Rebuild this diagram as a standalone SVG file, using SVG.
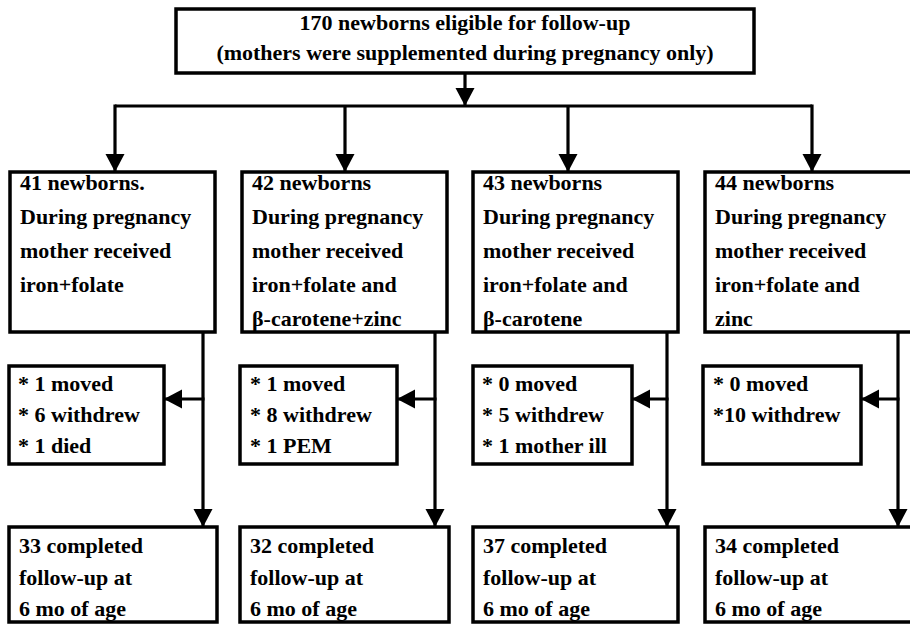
<svg xmlns="http://www.w3.org/2000/svg" width="910" height="626" viewBox="0 0 910 626">
  <defs>
    <style>
      .box { fill: #fff; stroke: #000; stroke-width: 3.5; }
      .txt { font-family: "Liberation Serif", "Times New Roman", serif; font-weight: bold; font-size: 22px; fill: #000; }
      .ctr { text-anchor: middle; }
      .wire { fill: none; stroke: #000; stroke-width: 3.2; }
    </style>
    <marker id="arrow" markerUnits="userSpaceOnUse" markerWidth="20" markerHeight="22" refX="18" refY="11" orient="auto">
      <path d="M0,1.5 L18,11 L0,20.5 Z" fill="#000"/>
    </marker>
  </defs>
  <rect width="910" height="626" fill="#fff"/>

  <!-- connectors -->
  <g id="connectors">
    <line class="wire" x1="465" y1="73" x2="465" y2="106" marker-end="url(#arrow)"/>
    <path class="wire" d="M115,106 H812"/>
    <line class="wire" x1="115" y1="104.5" x2="115" y2="172" marker-end="url(#arrow)"/>
    <line class="wire" x1="345" y1="106" x2="345" y2="172" marker-end="url(#arrow)"/>
    <line class="wire" x1="568" y1="106" x2="568" y2="172" marker-end="url(#arrow)"/>
    <line class="wire" x1="812" y1="104.5" x2="812" y2="172" marker-end="url(#arrow)"/>

    <line class="wire" x1="203" y1="332" x2="203" y2="527" marker-end="url(#arrow)"/>
    <line class="wire" x1="435" y1="332" x2="435" y2="527" marker-end="url(#arrow)"/>
    <line class="wire" x1="667" y1="332" x2="667" y2="527" marker-end="url(#arrow)"/>
    <line class="wire" x1="898" y1="332" x2="898" y2="527" marker-end="url(#arrow)"/>

    <line class="wire" x1="204.5" y1="399" x2="164" y2="399" marker-end="url(#arrow)"/>
    <line class="wire" x1="436.5" y1="399" x2="397" y2="399" marker-end="url(#arrow)"/>
    <line class="wire" x1="668.5" y1="399" x2="632" y2="399" marker-end="url(#arrow)"/>
    <line class="wire" x1="899.5" y1="399" x2="861" y2="399" marker-end="url(#arrow)"/>
  </g>

  <!-- eligible cohort -->
  <g id="eligible">
    <rect class="box" x="176" y="9" width="578" height="64"/>
    <text class="txt ctr" x="465" y="30">170 newborns eligible for follow-up</text>
    <text class="txt ctr" x="465" y="60">(mothers were supplemented during pregnancy only)</text>
  </g>

  <!-- supplementation groups -->
  <g id="group1">
    <rect class="box" x="10" y="172" width="205" height="160"/>
    <text class="txt" x="20" y="190">41 newborns.</text>
    <text class="txt" x="20" y="224">During pregnancy</text>
    <text class="txt" x="20" y="258">mother received</text>
    <text class="txt" x="20" y="292">iron+folate</text>
  </g>
  <g id="group2">
    <rect class="box" x="242" y="172" width="205" height="160"/>
    <text class="txt" x="252" y="190">42 newborns</text>
    <text class="txt" x="252" y="224">During pregnancy</text>
    <text class="txt" x="252" y="258">mother received</text>
    <text class="txt" x="252" y="292">iron+folate and</text>
    <text class="txt" x="252" y="326">β-carotene+zinc</text>
  </g>
  <g id="group3">
    <rect class="box" x="473" y="172" width="205" height="160"/>
    <text class="txt" x="483" y="190">43 newborns</text>
    <text class="txt" x="483" y="224">During pregnancy</text>
    <text class="txt" x="483" y="258">mother received</text>
    <text class="txt" x="483" y="292">iron+folate and</text>
    <text class="txt" x="483" y="326">β-carotene</text>
  </g>
  <g id="group4">
    <rect class="box" x="705" y="172" width="210" height="160"/>
    <text class="txt" x="715" y="190">44 newborns</text>
    <text class="txt" x="715" y="224">During pregnancy</text>
    <text class="txt" x="715" y="258">mother received</text>
    <text class="txt" x="715" y="292">iron+folate and</text>
    <text class="txt" x="715" y="326">zinc</text>
  </g>

  <!-- losses to follow-up -->
  <g id="loss1">
    <rect class="box" x="9" y="366" width="155" height="98"/>
    <text class="txt" x="18" y="391">* 1 moved</text>
    <text class="txt" x="18" y="422">* 6 withdrew</text>
    <text class="txt" x="18" y="453">* 1 died</text>
  </g>
  <g id="loss2">
    <rect class="box" x="240" y="366" width="157" height="98"/>
    <text class="txt" x="250" y="391">* 1 moved</text>
    <text class="txt" x="250" y="422">* 8 withdrew</text>
    <text class="txt" x="250" y="453">* 1 PEM</text>
  </g>
  <g id="loss3">
    <rect class="box" x="473" y="366" width="159" height="98"/>
    <text class="txt" x="482" y="391">* 0 moved</text>
    <text class="txt" x="482" y="422">* 5 withdrew</text>
    <text class="txt" x="482" y="453">* 1 mother ill</text>
  </g>
  <g id="loss4">
    <rect class="box" x="703" y="366" width="158" height="98"/>
    <text class="txt" x="713" y="391">* 0 moved</text>
    <text class="txt" x="713" y="422">*10 withdrew</text>
  </g>

  <!-- completed follow-up -->
  <g id="done1">
    <rect class="box" x="9" y="527" width="208" height="95"/>
    <text class="txt" x="19" y="553">33 completed</text>
    <text class="txt" x="19" y="585">follow-up at</text>
    <text class="txt" x="19" y="616">6 mo of age</text>
  </g>
  <g id="done2">
    <rect class="box" x="240" y="527" width="209" height="95"/>
    <text class="txt" x="250" y="553">32 completed</text>
    <text class="txt" x="250" y="585">follow-up at</text>
    <text class="txt" x="250" y="616">6 mo of age</text>
  </g>
  <g id="done3">
    <rect class="box" x="473" y="527" width="205" height="95"/>
    <text class="txt" x="483" y="553">37 completed</text>
    <text class="txt" x="483" y="585">follow-up at</text>
    <text class="txt" x="483" y="616">6 mo of age</text>
  </g>
  <g id="done4">
    <rect class="box" x="705" y="527" width="210" height="95"/>
    <text class="txt" x="715" y="553">34 completed</text>
    <text class="txt" x="715" y="585">follow-up at</text>
    <text class="txt" x="715" y="616">6 mo of age</text>
  </g>
</svg>
